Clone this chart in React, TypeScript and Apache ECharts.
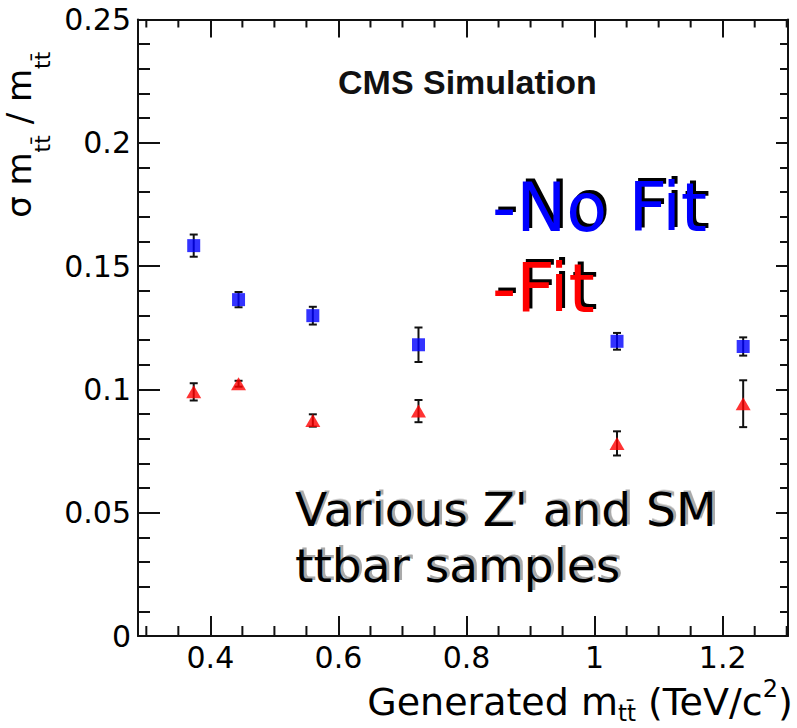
import React, { useEffect, useRef } from "react";
import * as echarts from "echarts";

// Generated masses (TeV/c^2)
const massPoints = [0.374, 0.444, 0.56, 0.725, 1.035, 1.232];
// Resolution without fit
const noFitValues = [0.1583, 0.1364, 0.1299, 0.1181, 0.1195, 0.1174];
const noFitErrors = [0.0045, 0.0031, 0.0036, 0.007, 0.0034, 0.0037];
// Resolution with fit
const fitValues = [0.099, 0.1023, 0.0874, 0.0912, 0.0781, 0.0942];
const fitErrors = [0.0035, 0.0012, 0.0025, 0.0045, 0.0049, 0.0095];
// Axis ranges and minor tick values
const xRange = [0.287, 1.302];
const yRange = [0, 0.25];
const xMinorTicks = [0.3, 0.35, 0.45, 0.5, 0.55, 0.65, 0.7, 0.75, 0.85, 0.9, 0.95, 1.05, 1.1, 1.15, 1.25, 1.3];

const AXIS_COLOR = "#111";
const TEXT_FONT = "DejaVu Sans";

// Renders a text's drop shadow as a bitmap so only the real text stays as text
function shadowBitmap(text: string, size: number, color: string) {
  const c = document.createElement("canvas");
  const ctx = c.getContext("2d")!;
  const font = `${size}px "${TEXT_FONT}"`;
  ctx.font = font;
  const w = Math.ceil(ctx.measureText(text).width) + 6;
  const h = Math.ceil(size * 1.6);
  c.width = w;
  c.height = h;
  ctx.font = font;
  ctx.fillStyle = color;
  ctx.textBaseline = "middle";
  ctx.fillText(text, 0, h / 2);
  return { url: c.toDataURL(), w, h };
}

export default function App() {
  const ref = useRef<HTMLDivElement>(null);

  useEffect(() => {
    if (!ref.current) return;
    const chart = echarts.init(ref.current, undefined, { renderer: "svg" });

    const errRender = (params: any, api: any) => {
      const x = api.value(0);
      const lo = api.value(1);
      const hi = api.value(2);
      const a = api.coord([x, hi]);
      const b = api.coord([x, lo]);
      const w = 4;
      const st = { stroke: AXIS_COLOR, lineWidth: 2 };
      return {
        type: "group",
        children: [
          { type: "line", shape: { x1: a[0], y1: a[1], x2: b[0], y2: b[1] }, style: st },
          { type: "line", shape: { x1: a[0] - w, y1: a[1], x2: a[0] + w, y2: a[1] }, style: st },
          { type: "line", shape: { x1: b[0] - w, y1: b[1], x2: b[0] + w, y2: b[1] }, style: st },
        ],
      };
    };

    const minorRender = (params: any, api: any) => {
      const v = api.value(0);
      const pb = api.coord([v, yRange[0]]);
      const pt = api.coord([v, yRange[1]]);
      const st = { stroke: AXIS_COLOR, lineWidth: 2 };
      return {
        type: "group",
        children: [
          { type: "line", shape: { x1: pb[0], y1: pb[1], x2: pb[0], y2: pb[1] - 10 }, style: st },
          { type: "line", shape: { x1: pt[0], y1: pt[1], x2: pt[0], y2: pt[1] + 8 }, style: st },
        ],
      };
    };

    const axisLine = { show: true, onZero: false, lineStyle: { color: AXIS_COLOR, width: 2 } };

    const shadowText = (text: string, x: number, y: number, fill: string, size: number, shadow: string, off: number) => {
      const bmp = shadowBitmap(text, size, shadow);
      return [
        {
          type: "image",
          x: x + off,
          y: y + off - bmp.h / 2,
          silent: true,
          style: { image: bmp.url, width: bmp.w, height: bmp.h },
        },
        {
          type: "text",
          x,
          y,
          style: { text, fill, fontFamily: TEXT_FONT, fontSize: size, align: "left", verticalAlign: "middle" },
        },
      ];
    };

    const option: any = {
      animation: false,
      backgroundColor: "#ffffff",
      grid: {
        left: 138,
        right: 9,
        top: 19.5,
        bottom: 92,
        containLabel: false,
        outerBoundsMode: "none",
      },
      xAxis: [
        {
          type: "value",
          position: "bottom",
          min: xRange[0],
          max: xRange[1],
          splitNumber: 5,
          axisLine,
          axisTick: { show: true, inside: true, length: 20, lineStyle: { color: AXIS_COLOR, width: 2 } },
          minorTick: { show: false },
          splitLine: { show: false },
          axisLabel: {
            showMinLabel: false,
            showMaxLabel: false,
            color: "#000",
            fontFamily: TEXT_FONT,
            fontSize: 30,
            margin: 6,
          },
          name: "{n|Generated m}{s|tt\u0304}{n| (TeV/c}{p|2}{n|)}",
          nameLocation: "middle",
          nameGap: 30,
          nameTextStyle: {
            color: "#000",
            fontFamily: TEXT_FONT,
            align: "center",
            verticalAlign: "top",
            padding: [0, 0, 0, 234],
            rich: {
              n: { fontFamily: TEXT_FONT, fontSize: 38, color: "#000", verticalAlign: "top", padding: [6, 0, 0, 0] },
              s: { fontFamily: TEXT_FONT, fontSize: 23, color: "#000", verticalAlign: "top", padding: [25, 0, 0, 0] },
              p: { fontFamily: TEXT_FONT, fontSize: 24, color: "#000", verticalAlign: "top" },
            },
          },
        },
        {
          type: "value",
          position: "top",
          min: xRange[0],
          max: xRange[1],
          splitNumber: 5,
          axisLine,
          axisTick: { show: true, inside: true, length: 18, lineStyle: { color: AXIS_COLOR, width: 2 } },
          minorTick: { show: false },
          splitLine: { show: false },
          axisLabel: { show: false },
        },
      ],
      yAxis: [
        {
          type: "value",
          position: "left",
          min: yRange[0],
          max: yRange[1],
          interval: 0.05,
          axisLine,
          axisTick: { show: true, inside: true, length: 22, lineStyle: { color: AXIS_COLOR, width: 2 } },
          minorTick: { show: true, splitNumber: 5, length: 12, lineStyle: { color: AXIS_COLOR, width: 2 } },
          splitLine: { show: false },
          minorSplitLine: { show: false },
          axisLabel: { color: "#000", fontFamily: TEXT_FONT, fontSize: 30, margin: 7 },
          name: "{n|\u03c3 m}{s|tt\u0304}{n| / m}{s|tt\u0304}",
          nameLocation: "middle",
          nameRotate: 90,
          nameGap: 91,
          nameTextStyle: {
            color: "#000",
            fontFamily: TEXT_FONT,
            align: "center",
            verticalAlign: "middle",
            padding: [0, 0, 0, 386],
            rich: {
              n: { fontFamily: TEXT_FONT, fontSize: 34, color: "#000", verticalAlign: "top" },
              s: { fontFamily: TEXT_FONT, fontSize: 22, color: "#000", verticalAlign: "top", padding: [29, 0, 0, 0] },
            },
          },
        },
        {
          type: "value",
          position: "right",
          min: yRange[0],
          max: yRange[1],
          interval: 0.05,
          axisLine,
          axisTick: { show: true, inside: true, length: 12, lineStyle: { color: AXIS_COLOR, width: 2 } },
          minorTick: { show: true, splitNumber: 5, length: 8, lineStyle: { color: AXIS_COLOR, width: 2 } },
          splitLine: { show: false },
          minorSplitLine: { show: false },
          axisLabel: { show: false },
        },
      ],
      series: [
        {
          type: "custom",
          name: "x minor ticks",
          silent: true,
          xAxisIndex: 0,
          yAxisIndex: 0,
          data: xMinorTicks.map((v) => [v, yRange[0]]),
          renderItem: minorRender,
          z: 1,
        },
        {
          type: "custom",
          name: "No Fit errors",
          xAxisIndex: 0,
          yAxisIndex: 0,
          data: massPoints.map((x, i) => [x, noFitValues[i] - noFitErrors[i], noFitValues[i] + noFitErrors[i]]),
          renderItem: errRender,
          encode: { x: 0, y: [1, 2] },
          z: 2,
        },
        {
          type: "custom",
          name: "Fit errors",
          xAxisIndex: 0,
          yAxisIndex: 0,
          data: massPoints.map((x, i) => [x, fitValues[i] - fitErrors[i], fitValues[i] + fitErrors[i]]),
          renderItem: errRender,
          encode: { x: 0, y: [1, 2] },
          z: 2,
        },
        {
          type: "scatter",
          name: "No Fit",
          xAxisIndex: 0,
          yAxisIndex: 0,
          data: massPoints.map((x, i) => [x, noFitValues[i]]),
          symbol: "rect",
          symbolSize: 13,
          itemStyle: { color: "#0000ff" },
          z: 4,
        },
        {
          type: "scatter",
          name: "Fit",
          xAxisIndex: 0,
          yAxisIndex: 0,
          data: massPoints.map((x, i) => [x, fitValues[i]]),
          symbol: "triangle",
          symbolSize: [15, 13],
          itemStyle: { color: "#ff0000" },
          z: 4,
        },
      ],
      graphic: [
        {
          type: "text",
          x: 338,
          y: 81.5,
          style: {
            text: "CMS Simulation",
            fill: "#111",
            fontFamily: "Liberation Sans",
            fontWeight: "bold",
            fontSize: 34,
            align: "left",
            verticalAlign: "middle",
          },
        },
        ...shadowText("-No Fit", 492, 208, "#0000ff", 67, "#000", 3),
        ...shadowText("-Fit", 492, 289, "#ff0000", 67, "#000", 3),
        ...shadowText("Various Z' and SM", 295, 509.5, "#000", 47, "#aaaaaa", 3),
        ...shadowText("ttbar samples", 295, 565, "#000", 47, "#aaaaaa", 3),
      ],
    };

    chart.setOption(option);
    return () => chart.dispose();
  }, []);

  return (
    <div
      ref={ref}
      style={{ position: "fixed", left: 0, top: 0, width: 797, height: 728, background: "#fff" }}
    />
  );
}
